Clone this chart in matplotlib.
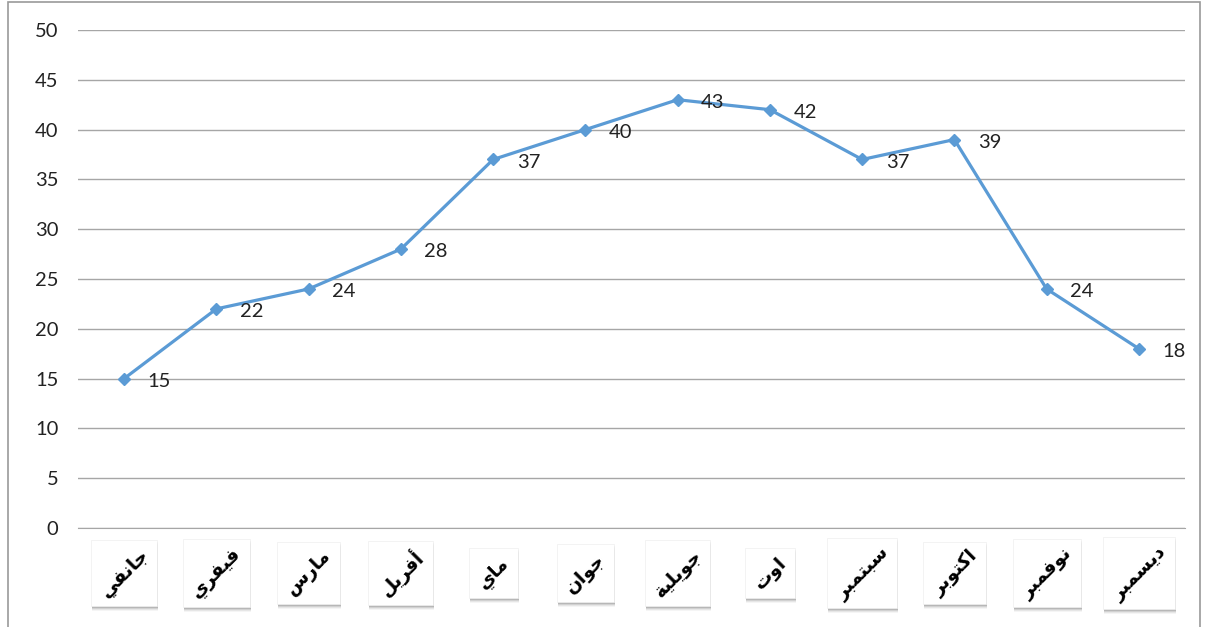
import matplotlib
matplotlib.use("Agg")
import matplotlib.pyplot as plt
from matplotlib.patches import Rectangle
import matplotlib.transforms as mtransforms

months = ["جانفي", "فيفري", "مارس", "أفريل", "ماي", "جوان",
          "جويلية", "اوت", "سبتمبر", "اكتوبر", "نوفمبر", "ديسمبر"]
values = [15, 22, 24, 28, 37, 40, 43, 42, 37, 39, 24, 18]
yticks = [0, 5, 10, 15, 20, 25, 30, 35, 40, 45, 50]

# Simple Arabic shaping (presentation forms) + reversal for LTR renderer
FORMS = {
    'ا': (0xFE8D, 0xFE8E, None, None),
    'أ': (0xFE83, 0xFE84, None, None),
    'ب': (0xFE8F, 0xFE90, 0xFE91, 0xFE92),
    'ة': (0xFE93, 0xFE94, None, None),
    'ت': (0xFE95, 0xFE96, 0xFE97, 0xFE98),
    'ج': (0xFE9D, 0xFE9E, 0xFE9F, 0xFEA0),
    'د': (0xFEA9, 0xFEAA, None, None),
    'ر': (0xFEAD, 0xFEAE, None, None),
    'س': (0xFEB1, 0xFEB2, 0xFEB3, 0xFEB4),
    'ف': (0xFED1, 0xFED2, 0xFED3, 0xFED4),
    'ك': (0xFED9, 0xFEDA, 0xFEDB, 0xFEDC),
    'ل': (0xFEDD, 0xFEDE, 0xFEDF, 0xFEE0),
    'م': (0xFEE1, 0xFEE2, 0xFEE3, 0xFEE4),
    'ن': (0xFEE5, 0xFEE6, 0xFEE7, 0xFEE8),
    'و': (0xFEED, 0xFEEE, None, None),
    'ي': (0xFEF1, 0xFEF2, 0xFEF3, 0xFEF4),
}


def dual(c):
    return c in FORMS and FORMS[c][2] is not None


def shape(word):
    out = []
    n = len(word)
    for i, c in enumerate(word):
        if c not in FORMS:
            out.append(c)
            continue
        prev_j = i > 0 and dual(word[i - 1])
        next_j = i < n - 1 and word[i + 1] in FORMS and dual(c)
        iso, fin, ini, med = FORMS[c]
        if prev_j and next_j:
            cp = med
        elif prev_j:
            cp = fin
        elif next_j:
            cp = ini
        else:
            cp = iso
        out.append(chr(cp))
    return ''.join(reversed(out))


plt.rcParams['font.family'] = ['Lato', 'DejaVu Sans']

fig = plt.figure(figsize=(12.09, 6.27), dpi=100)
ax = fig.add_axes([78 / 1209, 1 - 528 / 627, (1185 - 78) / 1209, (528 - 30) / 627])

x = list(range(len(months)))
ax.plot(x, values, color='#5B9BD5', lw=2.3, marker='D', markersize=6,
        zorder=3, clip_on=False)
for xi, v in zip(x, values):
    ax.annotate(str(v), (xi, v), xytext=(17, -2), textcoords='offset points',
                ha='left', va='center', fontsize=14.5, color='#222222')

ax.set_xlim(-0.5, len(months) - 0.5)
ax.set_ylim(0, 50)
ax.set_yticks(yticks)
ax.set_yticklabels([str(t) for t in yticks], fontsize=14.5, color='#222222')
ax.tick_params(axis='y', length=0, pad=14)
ax.yaxis.grid(True, color='#A6A6A6', lw=1)
ax.set_axisbelow(True)
for s in ['top', 'right', 'left']:
    ax.spines[s].set_visible(False)
ax.spines['bottom'].set_color('#A6A6A6')
ax.set_xticks(x)
ax.set_xticklabels([])
ax.tick_params(axis='x', length=0)

# rotated month labels with white boxes and soft shadow
trans = mtransforms.blended_transform_factory(ax.transData, fig.transFigure)
texts = []
for xi, m in zip(x, months):
    t = fig.text(0, 0, shape(m), rotation=45, rotation_mode='anchor',
                 ha='center', va='center', fontsize=13.5, fontweight='bold',
                 family=['DejaVu Sans'], color='black', zorder=5)
    t.set_transform(trans)
    t.set_position((xi, 1 - 573 / 627))
    texts.append(t)

fig.canvas.draw()
renderer = fig.canvas.get_renderer()
for t in texts:
    bb = t.get_window_extent(renderer)
    x0, y0 = bb.x0 - 5, bb.y0 - 5
    w, h = bb.width + 10, bb.height + 10
    for k, a in enumerate([0.12, 0.09, 0.06, 0.04]):
        sh = Rectangle(((x0 + 1) / 1209, (y0 - 2 - k) / 627), w / 1209, h / 627,
                       transform=fig.transFigure, facecolor='black', alpha=a,
                       edgecolor='none', zorder=3)
        fig.add_artist(sh)
    r = Rectangle((x0 / 1209, y0 / 627), w / 1209, h / 627,
                  transform=fig.transFigure, facecolor='white',
                  edgecolor='#EEEEEE', lw=0.5, zorder=4)
    fig.add_artist(r)

# outer border
border = Rectangle((8 / 1209, -0.01), (1200 - 8) / 1209, 1 - 2 / 627 + 0.01,
                   transform=fig.transFigure, fill=False,
                   edgecolor='#9A9A9A', lw=1.2, zorder=10)
fig.add_artist(border)

fig.savefig('out.png', dpi=100, facecolor='white')
